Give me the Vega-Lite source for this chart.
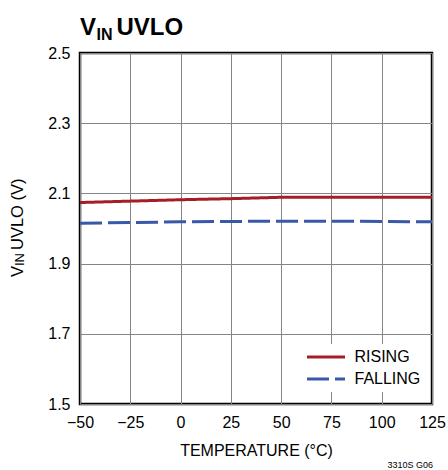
{
  "$schema": "https://vega.github.io/schema/vega-lite/v6.json",
  "width": 352,
  "height": 351,
  "autosize": {"type": "none"},
  "padding": {"left": 80, "top": 53, "right": 16, "bottom": 66},
  "background": "white",
  "config": {
    "font": "Liberation Sans",
    "view": {"stroke": "black", "strokeWidth": 2.5},
    "axis": {
      "grid": true,
      "gridColor": "#858585",
      "gridWidth": 1,
      "gridOpacity": 1,
      "ticks": false,
      "tickSize": 0,
      "domain": false,
      "labelFont": "Liberation Sans",
      "labelFontSize": 16,
      "labelColor": "black",
      "labelPadding": 10,
      "labelFlush": false,
      "titleFont": "Liberation Sans",
      "titleFontSize": 16,
      "titleFontWeight": "normal",
      "titleColor": "black",
      "titlePadding": 12
    },
    "legend": {
      "orient": "none",
      "legendX": 220.5,
      "legendY": 291,
      "padding": 5,
      "fillColor": "white",
      "symbolType": "stroke",
      "symbolSize": 1444,
      "symbolStrokeWidth": 3,
      "clipHeight": 16,
      "rowPadding": 6,
      "labelOffset": 8,
      "labelFont": "Liberation Sans",
      "labelFontSize": 16,
      "labelColor": "black"
    }
  },
  "layer": [
    {
      "data": {
        "values": [
          {"temperature": -50, "uvlo": 2.074, "series": "RISING"},
          {"temperature": -25, "uvlo": 2.078, "series": "RISING"},
          {"temperature": 0, "uvlo": 2.082, "series": "RISING"},
          {"temperature": 25, "uvlo": 2.085, "series": "RISING"},
          {"temperature": 50, "uvlo": 2.089, "series": "RISING"},
          {"temperature": 75, "uvlo": 2.089, "series": "RISING"},
          {"temperature": 100, "uvlo": 2.089, "series": "RISING"},
          {"temperature": 125, "uvlo": 2.089, "series": "RISING"},
          {"temperature": -50, "uvlo": 2.015, "series": "FALLING"},
          {"temperature": -25, "uvlo": 2.017, "series": "FALLING"},
          {"temperature": 0, "uvlo": 2.019, "series": "FALLING"},
          {"temperature": 25, "uvlo": 2.020, "series": "FALLING"},
          {"temperature": 50, "uvlo": 2.021, "series": "FALLING"},
          {"temperature": 75, "uvlo": 2.021, "series": "FALLING"},
          {"temperature": 100, "uvlo": 2.020, "series": "FALLING"},
          {"temperature": 125, "uvlo": 2.019, "series": "FALLING"}
        ]
      },
      "mark": {"type": "line", "strokeWidth": 3, "clip": true},
      "encoding": {
        "x": {
          "field": "temperature",
          "type": "quantitative",
          "scale": {"domain": [-50, 125], "nice": false, "zero": false},
          "axis": {"values": [-50, -25, 0, 25, 50, 75, 100, 125], "title": "TEMPERATURE (°C)"}
        },
        "y": {
          "field": "uvlo",
          "type": "quantitative",
          "scale": {"domain": [1.5, 2.5], "nice": false, "zero": false},
          "axis": {"values": [1.5, 1.7, 1.9, 2.1, 2.3, 2.5], "format": ".1f", "title": null}
        },
        "color": {
          "field": "series",
          "type": "nominal",
          "scale": {"domain": ["RISING", "FALLING"], "range": ["#a51e26", "#3a58a8"]},
          "legend": {"title": null}
        },
        "strokeDash": {
          "field": "series",
          "type": "nominal",
          "scale": {"domain": ["RISING", "FALLING"], "range": [[1, 0], [22, 6]]},
          "legend": {"title": null}
        }
      }
    },
    {
      "data": {"values": [{}]},
      "mark": {"type": "text", "text": "V", "fontSize": 24, "fontWeight": "bold", "align": "left", "baseline": "alphabetic", "dy": -18, "color": "black"},
      "encoding": {
        "x": {"datum": -50, "type": "quantitative"},
        "y": {"datum": 2.5, "type": "quantitative"}
      }
    },
    {
      "data": {"values": [{}]},
      "mark": {"type": "text", "text": "IN", "fontSize": 16, "fontWeight": "bold", "align": "left", "baseline": "alphabetic", "dx": 16.5, "dy": -13, "color": "black"},
      "encoding": {
        "x": {"datum": -50, "type": "quantitative"},
        "y": {"datum": 2.5, "type": "quantitative"}
      }
    },
    {
      "data": {"values": [{}]},
      "mark": {"type": "text", "text": "UVLO", "fontSize": 24, "fontWeight": "bold", "align": "left", "baseline": "alphabetic", "dx": 36.5, "dy": -18, "color": "black"},
      "encoding": {
        "x": {"datum": -50, "type": "quantitative"},
        "y": {"datum": 2.5, "type": "quantitative"}
      }
    },
    {
      "data": {"values": [{}]},
      "mark": {"type": "text", "text": "V", "fontSize": 16.5, "angle": 270, "align": "left", "baseline": "alphabetic", "dx": -48.5, "dy": -57.5, "color": "black"},
      "encoding": {
        "x": {"datum": -50, "type": "quantitative"},
        "y": {"datum": 2.0, "type": "quantitative"}
      }
    },
    {
      "data": {"values": [{}]},
      "mark": {"type": "text", "text": "IN", "fontSize": 13, "angle": 270, "align": "left", "baseline": "alphabetic", "dx": -37.5, "dy": -56, "color": "black"},
      "encoding": {
        "x": {"datum": -50, "type": "quantitative"},
        "y": {"datum": 2.0, "type": "quantitative"}
      }
    },
    {
      "data": {"values": [{}]},
      "mark": {"type": "text", "text": "UVLO (V)", "fontSize": 16.5, "angle": 270, "align": "left", "baseline": "alphabetic", "dx": -21.5, "dy": -57.5, "color": "black"},
      "encoding": {
        "x": {"datum": -50, "type": "quantitative"},
        "y": {"datum": 2.0, "type": "quantitative"}
      }
    },
    {
      "data": {"values": [{}]},
      "mark": {"type": "text", "text": "3310S G06", "fontSize": 9, "align": "right", "baseline": "alphabetic", "dx": 1, "dy": 64, "color": "black"},
      "encoding": {
        "x": {"datum": 125, "type": "quantitative"},
        "y": {"datum": 1.5, "type": "quantitative"}
      }
    }
  ]
}
